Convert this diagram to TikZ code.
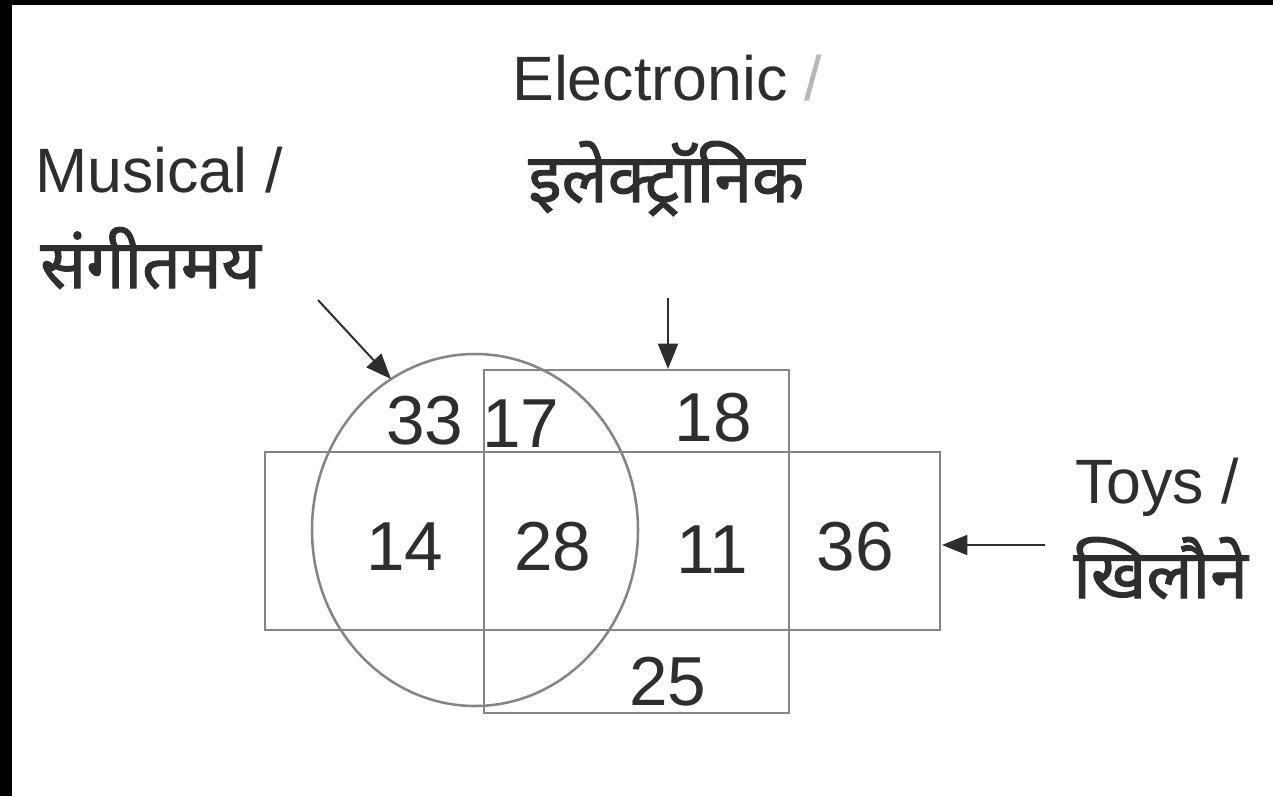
\documentclass[tikz,border=0pt]{standalone}
\usepackage{fontspec}
\setmainfont{Liberation Sans}
\newfontfamily\hindi[Script=Devanagari,FakeBold=1.5]{Noto Sans}
\usetikzlibrary{arrows.meta,shapes.geometric}
\definecolor{linegray}{HTML}{858585}
\definecolor{inkgray}{HTML}{2E2E2E}
\tikzset{
  region/.style={draw=linegray, line width=1.9pt, inner sep=0pt, fill=none},
  num/.style={anchor=base, inner sep=0pt, text=inkgray, font=\fontsize{52}{52}\selectfont},
  lbl/.style={anchor=base west, inner sep=0pt, text=inkgray, font=\fontsize{47}{47}\selectfont},
  hlbl/.style={anchor=base west, inner sep=0pt, text=inkgray, font=\hindi\fontsize{51}{51}\selectfont},
  pointer/.style={draw=inkgray, line width=1.5pt, -{Triangle[length=19pt,width=15pt]}}
}
\begin{document}
\begin{tikzpicture}[x=0.75pt,y=-0.75pt]
\fill[black] (0,0) rectangle (1273,796);
\fill[white] (12,5) rectangle (1273,796);
\useasboundingbox (0,0) rectangle (1273,796);
% regions
\node[region, rectangle, minimum width=506.25pt, minimum height=133.5pt] (toys) at (602.5,541) {};
\node[region, rectangle, minimum width=228.75pt, minimum height=257.25pt] (elec) at (636.5,541.5) {};
\node[region, ellipse, minimum width=244.5pt, minimum height=264pt] (mus) at (475,530) {};
% numbers
\node[num] (n33) at (425,444) {33};
\node[num] (n17) at (521,447) {17};
\node[num] (n18) at (713,441) {18};
\node[num] (n14) at (405,570) {14};
\node[num] (n28) at (553,570) {28};
\node[num] (n11) at (712,573) {11};
\node[num] (n36) at (855,570) {36};
\node[num] (n25) at (668,705) {25};
% labels
\node[lbl] (musL) at (35,192) {Musical /};
\node[hlbl] (musH) at (40,288) {संगीतमय};
\node[lbl] (elecL) at (512,100) {Electronic \textcolor{linegray!60}{/}};
\node[hlbl] (elecH) at (528,202) {इलेक्ट्रॉनिक};
\node[hlbl] (toysH) at (1073,598) {खिलौने};
\node[lbl] (toysL) at (1075,503) {Toys /};
% arrows
\coordinate (musS) at (318,300);
\coordinate (musT) at (391,379);
\coordinate (elecS) at (668,298);
\coordinate (elecT) at (668,369);
\coordinate (toysS) at (1045,545);
\coordinate (toysT) at (942,545);
\draw[pointer] (musS) -- (musT);
\draw[pointer] (elecS) -- (elecT);
\draw[pointer] (toysS) -- (toysT);
\end{tikzpicture}
\end{document}
